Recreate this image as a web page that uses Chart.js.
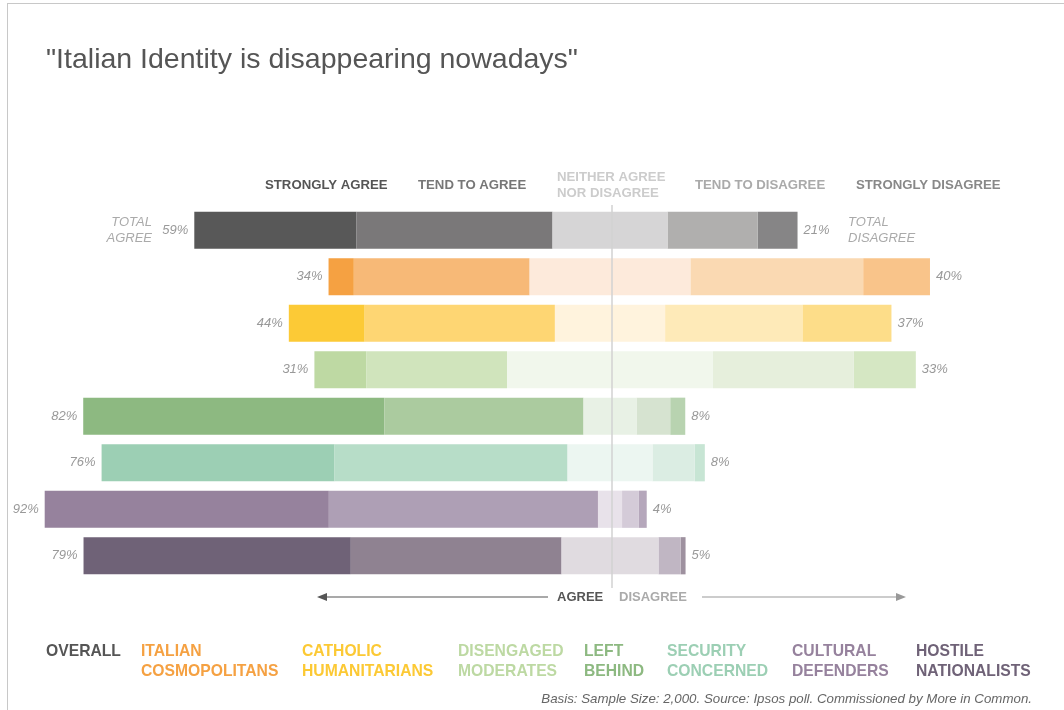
<!DOCTYPE html>
<html>
<head>
<meta charset="utf-8">
<script src="https://cdn.jsdelivr.net/npm/chart.js@4.4.1/dist/chart.umd.min.js"></script>
<style>
  html, body { margin: 0; padding: 0; background: #fff; }
  #wrap { position: relative; width: 1064px; height: 710px; overflow: hidden; }
  #frame { position: absolute; left: 7px; top: 3px; right: 0; bottom: 0; border-top: 1px solid #c8c8c8; border-left: 1px solid #c8c8c8; }
  canvas { position: absolute; left: 0; top: 0; }
</style>
</head>
<body>
<div id="wrap"><div id="frame"></div><canvas id="chart" width="1064" height="710"></canvas></div>
<script>
// segments, top to bottom
const segments = [
  'OVERALL', 'ITALIAN COSMOPOLITANS', 'CATHOLIC HUMANITARIANS', 'DISENGAGED MODERATES',
  'LEFT BEHIND', 'SECURITY CONCERNED', 'CULTURAL DEFENDERS', 'HOSTILE NATIONALISTS'
];
const legendLines = [
  ['OVERALL'], ['ITALIAN', 'COSMOPOLITANS'], ['CATHOLIC', 'HUMANITARIANS'], ['DISENGAGED', 'MODERATES'],
  ['LEFT', 'BEHIND'], ['SECURITY', 'CONCERNED'], ['CULTURAL', 'DEFENDERS'], ['HOSTILE', 'NATIONALISTS']
];

// % answering, per segment
const stronglyAgree    = [26.9,  4.2, 12.6,  8.6, 50.0, 38.7, 47.2, 44.4];
const tendToAgree      = [32.6, 29.2, 31.6, 23.4, 33.1, 38.7, 44.7, 35.0];
const neither          = [19.1, 26.7, 18.3, 34.2,  8.8, 14.1,  4.0, 16.1];
const tendToDisagree   = [15.0, 28.7, 22.8, 23.4,  5.6,  7.0,  2.8,  3.7];
const stronglyDisagree = [ 6.6, 11.1, 14.8, 10.3,  2.5,  1.7,  1.3,  0.8];

// totals as printed
const totalAgree    = [59, 34, 44, 31, 82, 76, 92, 79];
const totalDisagree = [21, 40, 37, 33,  8,  8,  4,  5];

const answerLabels = ['STRONGLY AGREE', 'TEND TO AGREE', 'NEITHER AGREE\nNOR DISAGREE', 'TEND TO DISAGREE', 'STRONGLY DISAGREE'];

// colours per segment: [strongly agree, tend agree, neither, tend disagree, strongly disagree]
const palettes = [
  ['#585858', '#7a7879', '#d6d5d6', '#b0afae', '#868586'],
  ['#f5a142', '#f7b977', '#fdeadb', '#fad9b2', '#f9c48a'],
  ['#fcca36', '#fed673', '#fff3dd', '#feeab8', '#fddd89'],
  ['#bed9a3', '#d0e4bc', '#f1f7ec', '#e6efdc', '#d5e7c3'],
  ['#8db981', '#abcb9f', '#e8f1e5', '#d6e3d0', '#b8d3b0'],
  ['#9ccfb4', '#b7ddc8', '#ecf6f1', '#dbede3', '#c7e5d4'],
  ['#96829d', '#ae9fb5', '#e8e2ea', '#d4cbd8', '#b5a7bb'],
  ['#6f6277', '#8f8291', '#e0dbe0', '#c0b6c3', '#9e919f']
];
const legendColors = ['#555555', '#f5a142', '#fcc934', '#bdd9a3', '#8db981', '#9ccfb4', '#96829d', '#6f6277'];

const FONT = '"Liberation Sans", Arial, Helvetica, sans-serif';

const col = k => palettes.map(p => p[k]);
const datasets = [
  { label: 'Neither (agree side)', data: neither.map(v => -v / 2), backgroundColor: col(2) },
  { label: 'Tend to agree', data: tendToAgree.map(v => -v), backgroundColor: col(1) },
  { label: 'Strongly agree', data: stronglyAgree.map(v => -v), backgroundColor: col(0) },
  { label: 'Neither (disagree side)', data: neither.map(v => v / 2), backgroundColor: col(2) },
  { label: 'Tend to disagree', data: tendToDisagree, backgroundColor: col(3) },
  { label: 'Strongly disagree', data: stronglyDisagree, backgroundColor: col(4) }
];

function text(ctx, str, x, y, opts) {
  ctx.save();
  ctx.font = opts.font;
  ctx.fillStyle = opts.color;
  ctx.textAlign = opts.align || 'left';
  ctx.textBaseline = 'middle';
  ctx.fillText(str, x, y);
  ctx.restore();
}

const decor = {
  id: 'decor',
  afterDatasetsDraw(chart) {
    const ctx = chart.ctx;
    const xs = chart.scales.x, ys = chart.scales.y;
    const zero = xs.getPixelForValue(0);

    // centre line
    ctx.save();
    ctx.strokeStyle = '#d2d2d2';
    ctx.lineWidth = 1.5;
    ctx.beginPath();
    ctx.moveTo(zero + 2, 205);
    ctx.lineTo(zero + 2, 588);
    ctx.stroke();
    ctx.restore();

    // title
    text(ctx, '"Italian Identity is disappearing nowadays"', 46, 60, { font: '28.5px ' + FONT, color: '#555' });

    // answer headers
    const headX = [265, 418, 557, 695, 856];
    const headC = ['#555', '#777', '#ccc', '#aaa', '#888'];
    answerLabels.forEach((lbl, i) => {
      const lines = lbl.split('\n');
      lines.forEach((ln, j) => {
        const y = lines.length > 1 ? 177 + j * 16 : 185;
        text(ctx, ln, headX[i], y, { font: 'bold 13.2px ' + FONT, color: headC[i] });
      });
    });

    // totals at each bar end
    const pctFont = 'italic 13px ' + FONT;
    segments.forEach((s, i) => {
      const y = ys.getPixelForValue(i);
      const left = xs.getPixelForValue(-(neither[i] / 2 + tendToAgree[i] + stronglyAgree[i]));
      const right = xs.getPixelForValue(neither[i] / 2 + tendToDisagree[i] + stronglyDisagree[i]);
      text(ctx, totalAgree[i] + '%', left - 6, y, { font: pctFont, color: '#999', align: 'right' });
      text(ctx, totalDisagree[i] + '%', right + 6, y, { font: pctFont, color: '#999' });
      if (i === 0) {
        text(ctx, 'TOTAL', 152, y - 8, { font: pctFont, color: '#aaa', align: 'right' });
        text(ctx, 'AGREE', 152, y + 8, { font: pctFont, color: '#aaa', align: 'right' });
        text(ctx, 'TOTAL', 848, y - 8, { font: pctFont, color: '#aaa' });
        text(ctx, 'DISAGREE', 848, y + 8, { font: pctFont, color: '#aaa' });
      }
    });

    // agree / disagree arrows
    const ay = 597;
    ctx.save();
    ctx.lineWidth = 1.2;
    ctx.strokeStyle = ctx.fillStyle = '#555';
    ctx.beginPath(); ctx.moveTo(322, ay); ctx.lineTo(548, ay); ctx.stroke();
    ctx.beginPath(); ctx.moveTo(317, ay); ctx.lineTo(327, ay - 4); ctx.lineTo(327, ay + 4); ctx.closePath(); ctx.fill();
    ctx.strokeStyle = ctx.fillStyle = '#999';
    ctx.beginPath(); ctx.moveTo(702, ay); ctx.lineTo(901, ay); ctx.stroke();
    ctx.beginPath(); ctx.moveTo(906, ay); ctx.lineTo(896, ay - 4); ctx.lineTo(896, ay + 4); ctx.closePath(); ctx.fill();
    ctx.restore();
    text(ctx, 'AGREE', 557, ay, { font: 'bold 13px ' + FONT, color: '#555' });
    text(ctx, 'DISAGREE', 619, ay, { font: 'bold 13px ' + FONT, color: '#aaa' });

    // segment names
    const legX = [46, 141, 302, 458, 584, 667, 792, 916];
    legendLines.forEach((lines, i) => {
      lines.forEach((ln, j) => {
        text(ctx, ln, legX[i], 652 + j * 20, { font: 'bold 15.7px ' + FONT, color: legendColors[i] });
      });
    });

    // source note
    text(ctx, 'Basis: Sample Size: 2,000. Source: Ipsos poll. Commissioned by More in Common.', 1032, 699,
      { font: 'italic 13.3px ' + FONT, color: '#666', align: 'right' });
  }
};

new Chart(document.getElementById('chart'), {
  type: 'bar',
  data: { labels: segments, datasets },
  options: {
    indexAxis: 'y',
    responsive: false,
    animation: false,
    layout: { padding: { left: 40, right: 64, top: 207, bottom: 131 } },
    datasets: { bar: { barPercentage: 0.8, categoryPercentage: 1.0, borderWidth: 0 } },
    plugins: { legend: { display: false }, tooltip: { enabled: false } },
    scales: {
      x: { stacked: true, min: -94.68, max: 64.78, display: false },
      y: { stacked: true, display: false }
    }
  },
  plugins: [decor]
});
</script>
</body>
</html>
